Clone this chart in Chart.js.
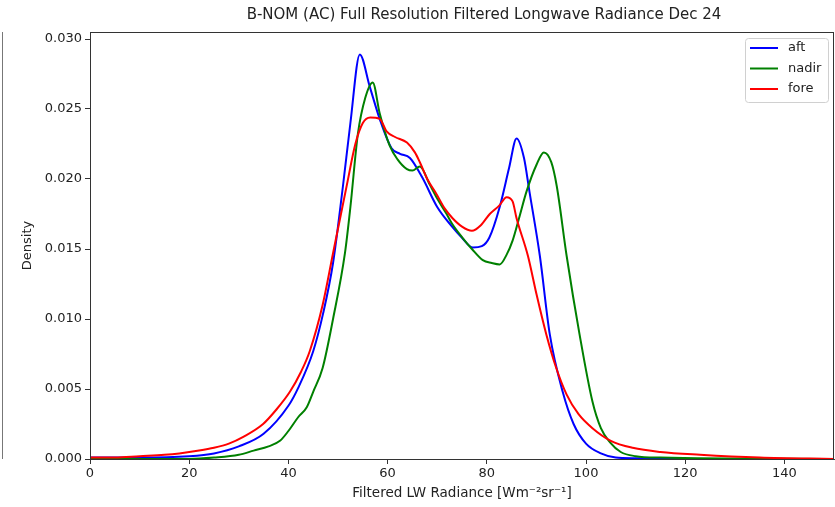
<!DOCTYPE html>
<html>
<head>
<meta charset="utf-8">
<script src="https://cdn.jsdelivr.net/npm/chart.js@4"></script>
<style>
  html, body { margin: 0; padding: 0; background: #fff; }
  #wrap { position: relative; width: 835px; height: 507px; }
</style>
</head>
<body>
<div id="wrap"><canvas id="chart" width="835" height="507"></canvas></div>
<script>
// Werte
const aftX = [0,10,20,25,30,35,40,42,45,47,49,51,52.5,54.4,56.4,58.4,60.8,62.5,64.5,67,70,73,75,77.2,79,80.5,82.6,84.5,86,87.5,88.6,90.7,92.7,95.3,97.5,100,103,106,110,120,150];
const aftY = [0.0001,0.0001,0.0002,0.0004,0.0009,0.0018,0.0038,0.0051,0.0077,0.0104,0.0140,0.0195,0.0240,0.0289,0.0266,0.0243,0.0222,0.0218,0.0215,0.0201,0.0180,0.0166,0.0158,0.0151,0.0152,0.0158,0.0180,0.0208,0.0229,0.0215,0.0191,0.0145,0.0089,0.0048,0.0025,0.0011,0.0004,0.0001,0.00005,0,0];

const nadirX = [0,20,25,30,33,36,38.3,40,42,43.7,45,46.9,49,51.4,52.5,54,55.5,57,58.4,60.4,62,63.9,65,66.5,68.5,70,71.9,73,75.1,77,79.2,81,82.6,84,85.2,86.5,88,90,91.5,93,94.1,96.1,98.7,101.3,103,104.8,107,110,115,150];
const nadirY = [0,0,0.0001,0.0003,0.0006,0.0009,0.0013,0.0020,0.0030,0.0037,0.0048,0.0065,0.0100,0.0147,0.0180,0.0232,0.0258,0.0269,0.0247,0.0224,0.0214,0.0207,0.0206,0.0209,0.0196,0.0186,0.0175,0.0168,0.0158,0.0150,0.0142,0.0140,0.0139,0.0146,0.0156,0.0172,0.0191,0.0210,0.0219,0.0212,0.0195,0.0145,0.0089,0.0041,0.0022,0.0012,0.0005,0.0002,0.0001,0];

const foreX = [0,5,10,15,18,22,25,28,31,34.9,37.5,40.3,42.5,44.3,46.9,49,51.8,53.5,55,56.5,58.4,59.8,61.5,63.9,65.5,66.5,68,69.9,71.5,73.1,75,77,78.8,80.6,82.5,84,85.2,86,88.3,90,92,94,96.1,98.5,101.3,105,109.4,115,123,135,150];
const foreY = [0.0001,0.0001,0.0002,0.0003,0.0004,0.0006,0.0008,0.0011,0.0016,0.0025,0.0035,0.0048,0.0062,0.0077,0.0110,0.0147,0.0196,0.0225,0.0240,0.0244,0.0243,0.0234,0.0230,0.0226,0.0219,0.0212,0.0200,0.0189,0.0179,0.0172,0.0166,0.0163,0.0167,0.0175,0.0181,0.0187,0.0184,0.0172,0.0145,0.0118,0.0089,0.0065,0.0046,0.0032,0.0022,0.0013,0.0008,0.0005,0.0003,0.0001,0];

const seriesNames = ['aft', 'nadir', 'fore'];
const seriesColors = ['#0000ff', '#008000', '#ff0000'];
const xTicks = [0, 20, 40, 60, 80, 100, 120, 140];
const yTicks = [0, 0.005, 0.010, 0.015, 0.020, 0.025, 0.030];

const titleText = 'B-NOM (AC) Full Resolution Filtered Longwave Radiance Dec 24';
const FONT = '"DejaVu Sans", sans-serif';

function toPoints(xs, ys) {
  return xs.map((x, i) => ({ x: x, y: ys[i] }));
}

// Rahmen, Titel, Legende und die abgeschnittene Nachbarachse links
const framePlugin = {
  id: 'frame',
  afterDraw(chart) {
    const ctx = chart.ctx;
    const a = chart.chartArea;
    ctx.save();
    ctx.strokeStyle = '#333';
    ctx.lineWidth = 1;
    ctx.strokeRect(Math.round(a.left) + 0.5, Math.round(a.top) + 0.5,
                   Math.round(a.right - a.left) - 1, Math.round(a.bottom - a.top));
    // Rest der Nachbar-Achse
    ctx.strokeStyle = '#777';
    ctx.beginPath();
    ctx.moveTo(2.5, a.top);
    ctx.lineTo(2.5, a.bottom);
    ctx.stroke();

    // Titel
    ctx.fillStyle = '#222';
    ctx.font = '15px ' + FONT;
    ctx.textAlign = 'center';
    ctx.textBaseline = 'middle';
    ctx.fillText(titleText, 484, 15);

    // Legende
    const bx = 745, by = 38, bw = 83, bh = 64;
    ctx.fillStyle = 'rgba(255,255,255,0.8)';
    ctx.strokeStyle = '#d0d0d0';
    ctx.beginPath();
    ctx.roundRect(bx + 0.5, by + 0.5, bw, bh, 3);
    ctx.fill();
    ctx.stroke();
    ctx.font = '13px ' + FONT;
    ctx.textAlign = 'left';
    seriesNames.forEach((name, i) => {
      const ly = by + 10 + i * 20.5;
      ctx.strokeStyle = seriesColors[i];
      ctx.lineWidth = 2;
      ctx.beginPath();
      ctx.moveTo(750, ly);
      ctx.lineTo(778, ly);
      ctx.stroke();
      ctx.fillStyle = '#222';
      ctx.fillText(name, 788, ly);
    });
    ctx.restore();
  }
};

const ctx = document.getElementById('chart').getContext('2d');
new Chart(ctx, {
  type: 'line',
  data: {
    datasets: [
      { label: seriesNames[0], data: toPoints(aftX, aftY), borderColor: seriesColors[0], order: 2 },
      { label: seriesNames[1], data: toPoints(nadirX, nadirY), borderColor: seriesColors[1], order: 1 },
      { label: seriesNames[2], data: toPoints(foreX, foreY), borderColor: seriesColors[2], order: 0 }
    ]
  },
  options: {
    responsive: false,
    animation: false,
    layout: { padding: { top: 32, right: 1, left: 0, bottom: 0 } },
    elements: {
      line: { borderWidth: 2, cubicInterpolationMode: 'monotone', fill: false },
      point: { radius: 0 }
    },
    plugins: {
      legend: { display: false },
      title: { display: false },
      tooltip: { enabled: false }
    },
    scales: {
      x: {
        type: 'linear',
        min: 0,
        max: 150,
        afterFit: s => { s.height = 48; },
        afterBuildTicks: s => { s.ticks = xTicks.map(v => ({ value: v })); },
        grid: { display: true, drawOnChartArea: false, drawTicks: true, tickLength: 5, color: '#333' },
        border: { display: true, color: '#333' },
        ticks: { color: '#222', padding: 2, maxRotation: 0, font: { family: FONT, size: 13 },
                 callback: v => String(v) },
        title: { display: true, text: 'Filtered LW Radiance [Wm⁻²sr⁻¹]', color: '#222',
                 font: { family: FONT, size: 13.5 }, padding: { top: 0, bottom: 5 } }
      },
      y: {
        type: 'linear',
        min: 0,
        max: 0.0305,
        afterFit: s => { s.width = 90; },
        afterBuildTicks: s => { s.ticks = yTicks.map(v => ({ value: v })); },
        grid: { display: true, drawOnChartArea: false, drawTicks: true, tickLength: 5, color: '#333' },
        border: { display: true, color: '#333' },
        ticks: { color: '#222', padding: 3, font: { family: FONT, size: 13 },
                 callback: v => v.toFixed(3) },
        title: { display: true, text: 'Density', color: '#222',
                 font: { family: FONT, size: 13 }, padding: { top: 20, bottom: 4 } }
      }
    }
  },
  plugins: [framePlugin]
});
</script>
</body>
</html>
